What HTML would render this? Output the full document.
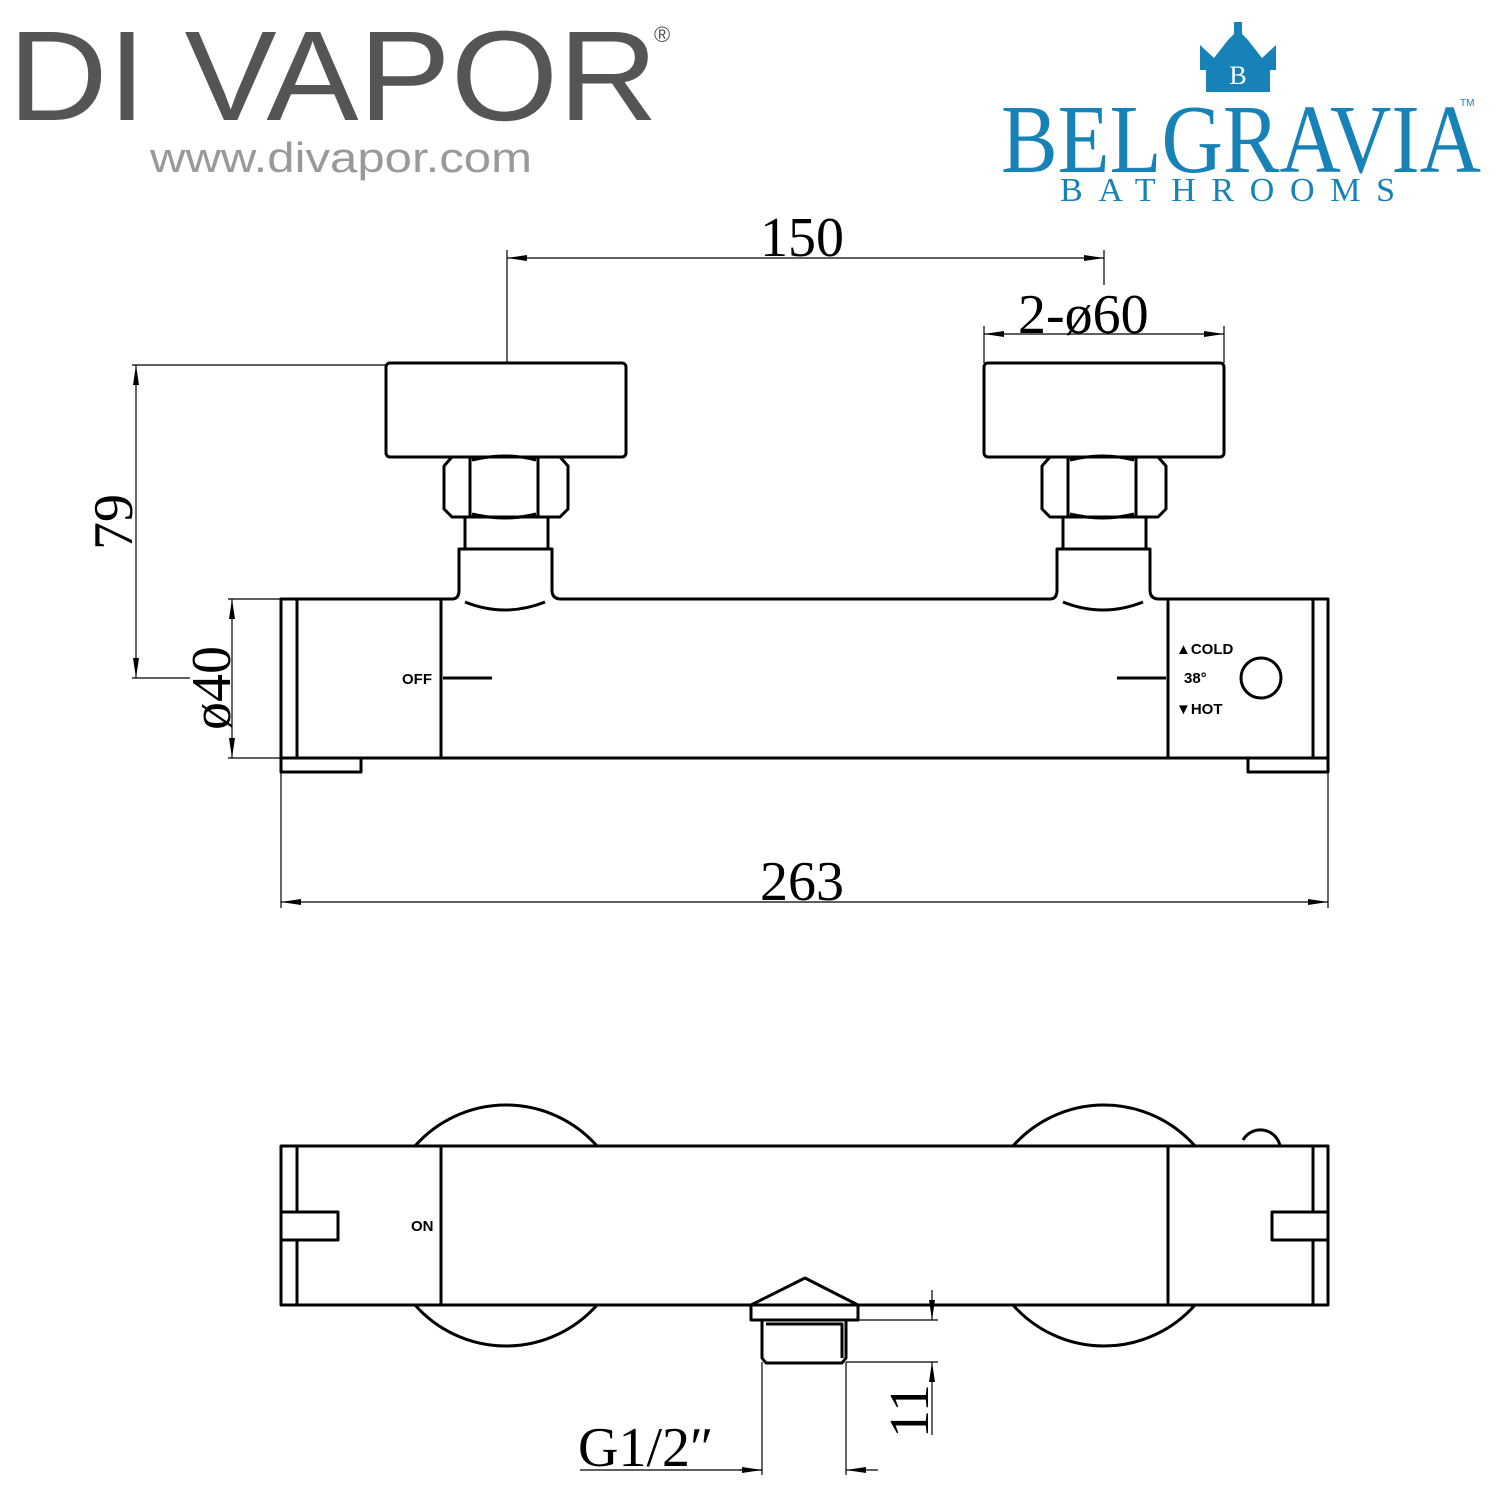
<!DOCTYPE html>
<html><head><meta charset="utf-8"><style>
html,body{margin:0;padding:0;background:#fff;width:1500px;height:1500px;overflow:hidden;}
svg{display:block;overflow:hidden;}
</style></head><body>
<svg width="1500" height="1500" viewBox="0 0 1500 1500" xmlns="http://www.w3.org/2000/svg">
<defs>
<marker id="a" viewBox="0 0 20 8" refX="20" refY="4" markerWidth="20" markerHeight="8" orient="auto-start-reverse" markerUnits="userSpaceOnUse"><path d="M0,1 L20,4 L0,7 Z" fill="#000"/></marker>
</defs>
<text x="8" y="120" font-family="Liberation Sans, sans-serif" font-size="128" fill="#555" textLength="650" lengthAdjust="spacingAndGlyphs">DI VAPOR</text>
<text x="654" y="42" font-family="Liberation Sans, sans-serif" font-size="22" fill="#555">®</text>
<text x="150" y="172" font-family="Liberation Sans, sans-serif" font-size="42" fill="#999" textLength="382" lengthAdjust="spacingAndGlyphs">www.divapor.com</text>
<g fill="#1682b8">
<path d="M1200,45 L1214,58 L1228,40 L1238,30 L1248,40 L1262,58 L1276,45 L1276,70 L1270,70 L1270,92 L1206,92 L1206,70 L1200,70 Z"/>
<rect x="1234" y="22" width="8" height="14"/>
<text x="1001" y="172" font-family="Liberation Serif, serif" font-size="98" textLength="480" lengthAdjust="spacingAndGlyphs">BELGRAVIA</text>
<text x="1060" y="201" font-family="Liberation Serif, serif" font-size="34" textLength="335" lengthAdjust="spacing">BATHROOMS</text>
<text x="1460" y="106" font-family="Liberation Sans, sans-serif" font-size="10">TM</text>
</g>
<text x="1238" y="84" font-family="Liberation Serif, serif" font-size="26" fill="#fff" text-anchor="middle">B</text>

<g stroke="#000" fill="none" stroke-width="3" stroke-linejoin="round">
<rect x="386" y="363" width="240" height="94" rx="4"/>
<rect x="984" y="363" width="240" height="94" rx="4"/>
<g>
<path d="M452,457 L560,457 L568,466 L568,509 L560,517 L452,517 L444,509 L444,466 Z"/>
<path d="M470,457 L470,517 M538,457 L538,517"/>
<path d="M472,460 Q505,452 536,460 M472,514 Q505,522 536,514"/>
<path d="M465,517 L465,549 M548,517 L548,549"/>
<path d="M441,599 L452,599 Q459,599 459,590 L459,549 L552,549 L552,590 Q552,599 561,599"/>
<path d="M465,602 Q505,618 545,602"/>
</g>
<g transform="translate(598,0)">
<path d="M452,457 L560,457 L568,466 L568,509 L560,517 L452,517 L444,509 L444,466 Z"/>
<path d="M470,457 L470,517 M538,457 L538,517"/>
<path d="M472,460 Q505,452 536,460 M472,514 Q505,522 536,514"/>
<path d="M465,517 L465,549 M548,517 L548,549"/>
<path d="M452,599 Q459,599 459,590 L459,549 L552,549 L552,590 Q552,599 561,599"/>
<path d="M465,602 Q505,618 545,602"/>
</g>
<path d="M561,599 L1050,599"/>
<path d="M1159,599 L1328,599 L1328,758 L281,758 L281,599 L441,599"/>
<path d="M297,599 L297,758 M441,599 L441,758 M1168,599 L1168,758 M1313,599 L1313,758"/>
<path d="M281,758 L281,772 L361,772 L361,758 M1248,758 L1248,772 L1328,772 L1328,758"/>
<path d="M443,678 L492,678 M1117,678 L1166,678"/>
<circle cx="1261" cy="678" r="20"/>
<path d="M415,1146 A121.5,121.5 0 0 1 597,1146 M415,1305 A121.5,121.5 0 0 0 597,1305"/>
<path d="M1013,1146 A121.5,121.5 0 0 1 1195,1146 M1013,1305 A121.5,121.5 0 0 0 1195,1305"/>
<path d="M1243,1140 A20,20 0 0 1 1280,1146"/>
<rect x="281" y="1146" width="1047" height="159"/>
<path d="M297,1146 L297,1212 M297,1240 L297,1305 M1313,1146 L1313,1212 M1313,1240 L1313,1305 M441,1146 L441,1305 M1168,1146 L1168,1305"/>
<path d="M281,1212 L338,1212 L338,1240 L281,1240 M1328,1212 L1272,1212 L1272,1240 L1328,1240"/>
<path d="M751,1305 L805,1278 L858,1305 Z" fill="#fff"/>
<rect x="751" y="1305" width="107" height="15" fill="#fff"/>
<path d="M762,1320 L762,1358 L766,1363 L842,1363 L846,1358 L846,1320 M766,1324 L842,1324 L842,1358"/>
</g>
<g stroke="#000" stroke-width="1.2" fill="none">
<line x1="507" y1="258" x2="1104" y2="258" marker-start="url(#a)" marker-end="url(#a)"/>
<line x1="507" y1="250" x2="507" y2="363"/><line x1="1104" y1="250" x2="1104" y2="285"/>
<line x1="984" y1="334" x2="1224" y2="334" marker-start="url(#a)" marker-end="url(#a)"/>
<line x1="984" y1="326" x2="984" y2="363"/><line x1="1224" y1="326" x2="1224" y2="363"/>
<line x1="136" y1="365" x2="136" y2="678" marker-start="url(#a)" marker-end="url(#a)"/>
<line x1="132" y1="365" x2="386" y2="365"/><line x1="132" y1="678" x2="190" y2="678"/>
<line x1="232" y1="599" x2="232" y2="758" marker-start="url(#a)" marker-end="url(#a)"/>
<line x1="228" y1="599" x2="281" y2="599"/><line x1="228" y1="758" x2="281" y2="758"/>
<line x1="281" y1="902" x2="1328" y2="902" marker-start="url(#a)" marker-end="url(#a)"/>
<line x1="281" y1="772" x2="281" y2="908"/><line x1="1328" y1="772" x2="1328" y2="908"/>
<line x1="932" y1="1290" x2="932" y2="1320" marker-end="url(#a)"/>
<line x1="932" y1="1362" x2="932" y2="1435" marker-start="url(#a)"/>
<line x1="846" y1="1320" x2="938" y2="1320"/><line x1="846" y1="1362" x2="938" y2="1362"/>
<line x1="740" y1="1470" x2="762" y2="1470" marker-end="url(#a)"/>
<line x1="846" y1="1470" x2="878" y2="1470" marker-start="url(#a)"/>
<line x1="580" y1="1470" x2="762" y2="1470"/>
<line x1="762" y1="1362" x2="762" y2="1475"/><line x1="846" y1="1362" x2="846" y2="1475"/>
</g>
<g font-family="Liberation Serif, serif" font-size="56" fill="#000">
<text x="760" y="256">150</text>
<text x="1018" y="333">2-ø60</text>
<text x="760" y="900">263</text>
<text transform="translate(132,550) rotate(-90)">79</text>
<text transform="translate(230,730) rotate(-90)">ø40</text>
<text transform="translate(928,1438) rotate(-90)">11</text>
<text x="578" y="1466">G1/2″</text>
</g>
<g font-family="Liberation Sans, sans-serif" font-size="15" font-weight="bold" fill="#000">
<text x="402" y="684">OFF</text>
<text x="411" y="1231">ON</text>
<text x="1176" y="654">▲COLD</text>
<text x="1184" y="683">38°</text>
<text x="1176" y="714">▼HOT</text>
</g>
</svg>
</body></html>
